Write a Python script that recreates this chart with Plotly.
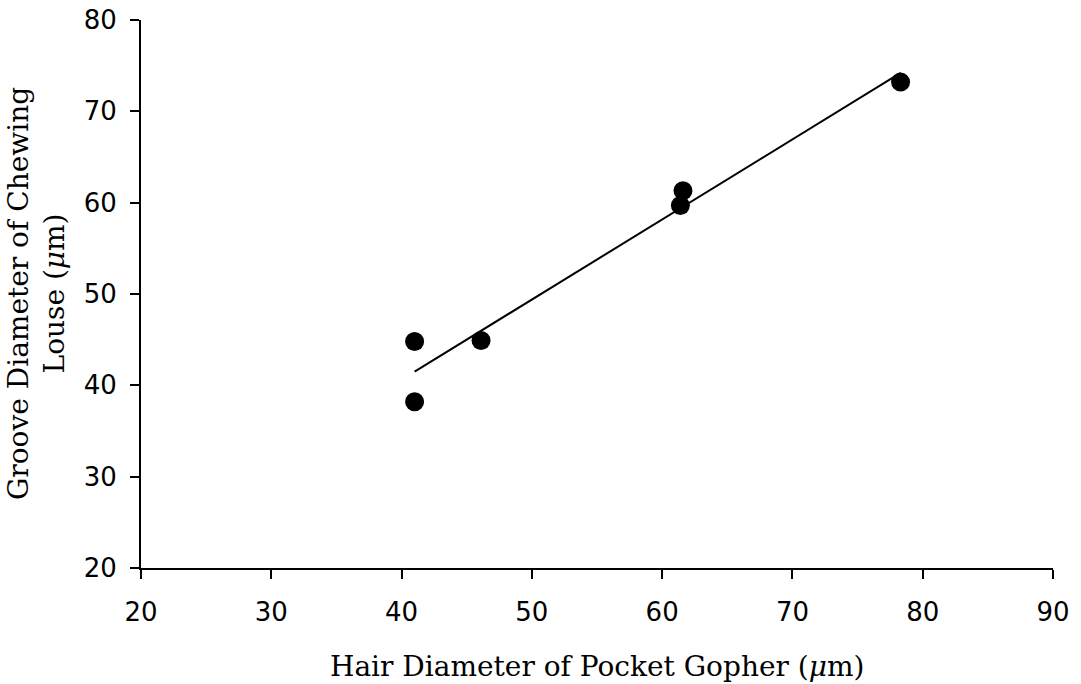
import plotly.graph_objects as go

hair_diameter = [41.0, 41.0, 46.1, 61.4, 61.6, 78.3]
groove_diameter = [44.8, 38.2, 44.9, 59.7, 61.3, 73.2]
trend_x = [41.0, 78.3]
trend_y = [41.5, 74.2]

x_ticks = [20, 30, 40, 50, 60, 70, 80, 90]
y_ticks = [20, 30, 40, 50, 60, 70, 80]

fig = go.Figure()
fig.add_trace(go.Scatter(x=trend_x, y=trend_y, mode="lines",
                         line=dict(color="black", width=2), showlegend=False))
fig.add_trace(go.Scatter(x=hair_diameter, y=groove_diameter, mode="markers",
                         marker=dict(color="black", size=19), showlegend=False))

axis_common = dict(showline=True, linecolor="black", linewidth=2, ticks="outside",
                   ticklen=9, tickwidth=1.5, tickcolor="black", showgrid=False,
                   zeroline=False, automargin=False,
                   tickfont=dict(family="DejaVu Sans", size=26, color="black"))
fig.update_xaxes(range=[20, 90], tickvals=x_ticks, ticklabelstandoff=11, **axis_common)
fig.update_yaxes(range=[20, 80], tickvals=y_ticks, ticklabelstandoff=8, **axis_common)

title_font = dict(family="DejaVu Serif", size=28, color="black")
W, H = 1081, 684
L, R, T, B = 141, 28, 20, 116
pw, ph = W - L - R, H - T - B
fig.add_annotation(text="Hair Diameter of Pocket Gopher (<i>μ</i>m)", xref="paper", yref="paper",
                   x=0.5, y=-(666 - 568) / ph, xanchor="center", yanchor="middle", showarrow=False,
                   font=title_font)
fig.add_annotation(text="Groove Diameter of Chewing<br>Louse (<i>μ</i>m)", xref="paper", yref="paper",
                   x=(36 - L) / pw, y=(568 - 294) / ph, xanchor="center", yanchor="middle",
                   showarrow=False, textangle=-90, font=title_font)

fig.update_layout(width=W, height=H, margin=dict(l=L, r=R, t=T, b=B),
                  plot_bgcolor="white", paper_bgcolor="white")
fig.write_html("out.html", config={"displayModeBar": False},
               post_script="document.body.style.margin='0';document.body.style.overflow='hidden';")
